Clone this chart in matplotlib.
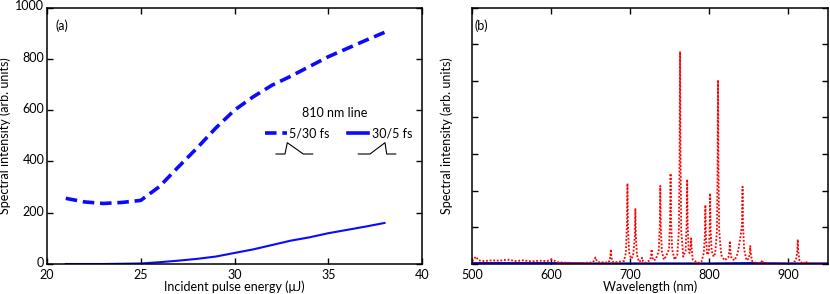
import matplotlib
matplotlib.use("Agg")
import matplotlib.pyplot as plt
import matplotlib.transforms as mtransforms

# ---------------- data: panel (a) ----------------
energy = [21, 22, 23, 24, 25, 26, 27, 28, 29, 30, 31, 32, 33, 34, 35, 36, 37, 38]
int_5_30 = [256, 242, 236, 240, 248, 302, 378, 452, 530, 600, 652, 697, 732, 770, 808, 840, 872, 903]
int_30_5 = [0, 0, 0, 1, 2, 7, 13, 20, 29, 43, 57, 74, 91, 104, 120, 133, 146, 160]

# ---------------- data: panel (b) ----------------
wavelength = [500, 503, 505, 508, 515, 525, 535, 545, 555, 565, 575, 585, 595, 600, 603, 608,
              615, 625, 640, 650,
              653, 655, 656, 657, 659,
              672.5, 674, 675, 675.5, 676, 677, 679,
              692, 694.5, 695.9, 696.5, 697.1, 698.5,
              701, 703.5, 705.9, 706.5, 707.1, 708.5, 711,
              714, 715, 716, 720,
              725.5, 726.5, 727, 727.5, 729, 732,
              736, 737.4, 738, 738.6, 740, 742.5,
              745, 749, 750.4, 751, 751.6, 753, 756,
              759.5, 761.5, 762.4, 763, 763.6, 764.5, 767,
              770, 771.4, 772, 772.6, 773.8, 775,
              776.4, 777, 777.6, 779, 785, 790,
              793, 794.4, 795, 795.6, 797, 798,
              799.5, 800.4, 801, 801.6, 803, 805.5,
              807.5, 809.6, 810.4, 811, 811.6, 812.5, 815, 819,
              824, 825.4, 826, 826.6, 828, 832,
              836, 839, 841.2, 842, 842.6, 844, 847,
              850, 851.1, 851.7, 852.3, 854, 860,
              865.5, 867, 868.5, 880, 905,
              909.5, 911.2, 911.8, 912.4, 914, 918,
              921.5, 922.5, 923.5, 930, 949]
spec_red = [0.08, 0.15, 0.2, 0.1, 0.08, 0.1, 0.09, 0.12, 0.08, 0.1, 0.07, 0.09, 0.08, 0.12, 0.1, 0.05,
            0.04, 0.03, 0.03, 0.04,
            0.05, 0.12, 0.18, 0.12, 0.05,
            0.04, 0.1, 0.22, 0.4, 0.22, 0.1, 0.04,
            0.08, 0.3, 1.1, 2.2, 1.1, 0.33,
            0.15, 0.2, 0.76, 1.52, 0.76, 0.25, 0.06,
            0.1, 0.17, 0.08, 0.03,
            0.12, 0.25, 0.4, 0.25, 0.1, 0.12,
            0.35, 1.05, 2.13, 1.05, 0.35, 0.12,
            0.2, 0.4, 1.2, 2.47, 1.2, 0.4, 0.12,
            0.25, 0.9, 2.9, 5.8, 2.9, 0.9, 0.2,
            0.35, 1.15, 2.31, 1.1, 0.4, 0.3,
            0.45, 0.7, 0.45, 0.12, 0.03, 0.06,
            0.3, 0.8, 1.61, 0.8, 0.3, 0.25,
            0.35, 0.95, 1.93, 0.95, 0.35, 0.2,
            0.3, 0.9, 2.5, 5.02, 2.5, 0.9, 0.25, 0.1,
            0.18, 0.35, 0.63, 0.35, 0.15, 0.1,
            0.3, 0.7, 1.05, 2.11, 1.05, 0.4, 0.1,
            0.15, 0.3, 0.49, 0.3, 0.08, 0.02,
            0.04, 0.1, 0.03, 0.01, 0.01,
            0.1, 0.35, 0.67, 0.35, 0.08, 0.02,
            0.04, 0.08, 0.03, 0.01, 0.01]
wl_blue = [500, 550, 600, 650, 700, 750, 800, 850, 900, 949]
spec_blue = [0.03, 0.03, 0.03, 0.02, 0.02, 0.02, 0.02, 0.03, 0.02, 0.02]

xticks_a = [20, 25, 30, 35, 40]
yticks_a = [0, 200, 400, 600, 800, 1000]
xticks_b = [500, 600, 700, 800, 900]
yticks_b = [0, 1, 2, 3, 4, 5, 6, 7]

plt.rcParams['font.family'] = ['Lato', 'DejaVu Sans']
plt.rcParams['font.size'] = 9

W, H = 830, 294
fig = plt.figure(figsize=(W / 100, H / 100), dpi=100)

def px_axes(l, t, r, b):
    return fig.add_axes([l / W, 1 - b / H, (r - l) / W, (b - t) / H])

ax1 = px_axes(47, 7.5, 422, 264)
ax2 = px_axes(472, 7.5, 828, 264)

blue = '#0a0aff'
for ax in (ax1, ax2):
    for s in ax.spines.values():
        s.set_linewidth(1.1)
    ax.tick_params(direction='in', top=True, right=True, length=4.5, width=1.0,
                   labelsize=9, pad=2)
    ax.tick_params(axis='x', pad=3.5)

# ---- panel (a)
ax1.plot(energy, int_5_30, color=blue, lw=2.6, ls=(0, (3.2, 1.6)), dash_capstyle='butt')
ax1.plot(energy, int_30_5, color=blue, lw=1.5)
ax1.set_xlim(20, 40)
ax1.set_ylim(0, 1000)
ax1.set_xticks(xticks_a)
ax1.set_yticks(yticks_a)
ax1.set_xlabel('Incident pulse energy (μJ)', labelpad=0)
ax1.set_ylabel('Spectral intensity (arb. units)', labelpad=3)
ax1.text(0.022, 0.955, '(a)', transform=ax1.transAxes, ha='left', va='top', fontsize=9)
# nudge the y tick labels up a touch so "0" clears "20"
shift = mtransforms.ScaledTranslation(0, 2 / 100, fig.dpi_scale_trans)
for lab in ax1.get_yticklabels():
    lab.set_transform(lab.get_transform() + shift)

def fx(px):
    return (px - 47) / 375
def fy(py):
    return (264 - py) / 256.5

ax1.text(fx(335), fy(113), '810 nm line', transform=ax1.transAxes, ha='center', va='center', fontsize=9)
ax1.plot([fx(265), fx(287)], [fy(132.7)] * 2, transform=ax1.transAxes, color=blue, lw=2.6,
         ls=(0, (3.2, 1.6)), dash_capstyle='butt')
ax1.text(fx(288.5), fy(133), '5/30 fs', transform=ax1.transAxes, ha='left', va='center', fontsize=9)
ax1.plot([fx(348), fx(368)], [fy(132.7)] * 2, transform=ax1.transAxes, color=blue, lw=2.6)
ax1.text(fx(372), fy(133), '30/5 fs', transform=ax1.transAxes, ha='left', va='center', fontsize=9)
# pulse-shape icons
ax1.plot([fx(276), fx(285), fx(287.3), fx(303.3), fx(312.7)],
         [fy(154), fy(154), fy(142.7), fy(154), fy(154)],
         transform=ax1.transAxes, color='black', lw=0.8)
ax1.plot([fx(358.3), fx(370), fx(385), fx(386.7), fx(395.7)],
         [fy(154), fy(154), fy(142.7), fy(154), fy(154)],
         transform=ax1.transAxes, color='black', lw=0.8)

# ---- panel (b)
ax2.plot(wl_blue, spec_blue, color=blue, lw=1.3)
ax2.plot(wavelength, spec_red, color='red', lw=1.3, ls=(0, (1, 1)))
ax2.set_xlim(500, 950)
ax2.set_ylim(0, 7)
ax2.set_xticks(xticks_b)
ax2.set_yticks(yticks_b)
ax2.set_yticklabels([])
ax2.set_xlabel('Wavelength (nm)', labelpad=0)
ax2.set_ylabel('Spectral intensity (arb. units)', labelpad=12)
ax2.text(0.008, 0.955, '(b)', transform=ax2.transAxes, ha='left', va='top', fontsize=9)

fig.savefig('out.png', dpi=100)
